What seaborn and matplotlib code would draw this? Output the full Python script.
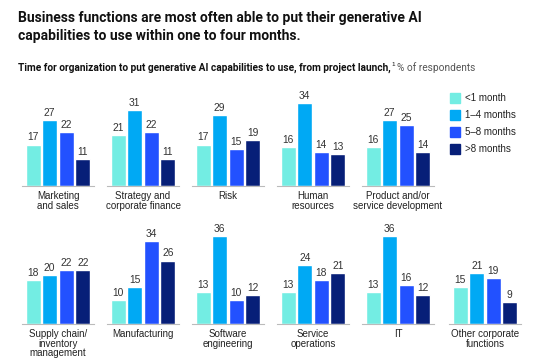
import pandas as pd
import matplotlib
matplotlib.use("Agg")
import matplotlib.pyplot as plt
import seaborn as sns

functions = ["Marketing\nand sales", "Strategy and\ncorporate finance", "Risk", "Human\nresources",
             "Product and/or\nservice development", "Supply chain/\ninventory\nmanagement", "Manufacturing",
             "Software\nengineering", "Service\noperations", "IT", "Other corporate\nfunctions"]
periods = ["<1 month", "1\u20134 months", "5\u20138 months", ">8 months"]
lt1 = [17, 21, 17, 16, 16, 18, 10, 13, 13, 13, 15]
m1_4 = [27, 31, 29, 34, 27, 20, 15, 36, 24, 36, 21]
m5_8 = [22, 22, 15, 14, 25, 22, 34, 10, 18, 16, 19]
gt8 = [11, 11, 19, 13, 14, 22, 26, 12, 21, 12, 9]
colors = ["#73EDE3", "#00A9F4", "#2251FF", "#071F78"]

rows = []
for i, f in enumerate(functions):
    for p, vals in zip(periods, [lt1, m1_4, m5_8, gt8]):
        rows.append({"function": f, "period": p, "value": vals[i]})
df = pd.DataFrame(rows)

sns.set_style("white")
plt.rcParams["font.family"] = ["Liberation Sans", "DejaVu Sans"]

W, H = 554, 360
fig = plt.figure(figsize=(W / 100, H / 100), dpi=100)


def fx(x):
    return x / W


def fy(y):
    return 1 - y / H


# title and subtitle
fig.text(fx(18), fy(11), "Business functions are most often able to put their generative AI\n"
         "capabilities to use within one to four months.", fontsize=10.0, fontweight="bold",
         family="Roboto", va="top", ha="left", color="#111111", linespacing=1.35)
t1 = fig.text(fx(18), fy(68), "Time for organization to put generative AI capabilities to use, from project launch,",
              fontsize=7.3, fontweight="bold", family="Roboto", va="center", ha="left", color="#111111")
r = fig.canvas.get_renderer()
bb = t1.get_window_extent(r)
x_end = bb.x1
fig.text(x_end / W + 0.001, fy(65), "1", fontsize=4.5, va="center", ha="left", color="#111111")
fig.text(x_end / W + 0.011, fy(68), "% of respondents", fontsize=7.3, family="Roboto",
         va="center", ha="left", color="#555555")

scale = 2.44  # px per unit
ymax = 40
starts_top = [22, 107, 192, 277, 362]
starts_bot = [22, 107, 192, 277, 362, 449]
panel_w = 72

positions = [(x, 186) for x in starts_top] + [(x, 324) for x in starts_bot]

for f, (x0, base) in zip(functions, positions):
    sub = df[df["function"] == f]
    hpx = ymax * scale
    ax = fig.add_axes([fx(x0), fy(base), fx(panel_w), hpx / H])
    sns.barplot(data=sub, x="function", y="value", hue="period", hue_order=periods,
                palette=colors, width=0.92, gap=0.1, ax=ax, legend=False, saturation=1)
    for c in ax.containers:
        ax.bar_label(c, fontsize=7.4, color="#333333", padding=1.5)
    ax.set_ylim(0, ymax)
    ax.set_xlim(-0.5, 0.5)
    ax.set_xticks([])
    ax.set_yticks([])
    ax.set_xlabel("")
    ax.set_ylabel("")
    for s in ["top", "right", "left"]:
        ax.spines[s].set_visible(False)
    ax.spines["bottom"].set_color("#BBBBBB")
    ax.spines["bottom"].set_linewidth(0.8)
    ax.patch.set_alpha(0)
    fig.text(fx(x0 + panel_w / 2), fy(base + 5), f, fontsize=7, ha="center", va="top",
             color="#222222", linespacing=0.95)

# legend
for i, (p, c) in enumerate(zip(periods, colors)):
    yc = 98 + i * 17
    fig.patches.append(plt.Rectangle((fx(450), fy(yc + 5)), fx(10), 10 / H, color=c,
                                     transform=fig.transFigure, figure=fig))
    fig.text(fx(465), fy(yc), p, fontsize=7, va="center", ha="left", color="#222222")

fig.savefig("out.png", dpi=100)
